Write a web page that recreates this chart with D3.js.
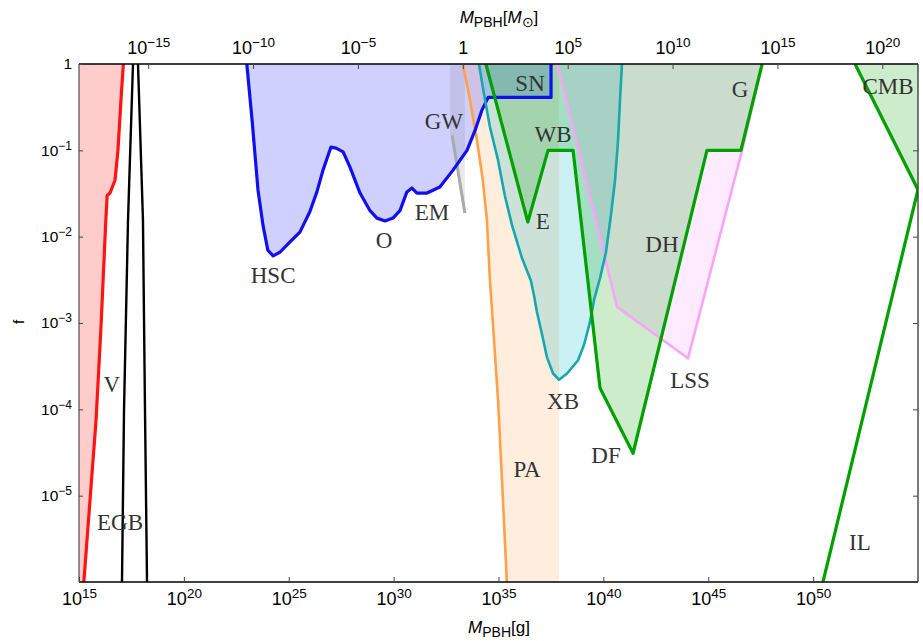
<!DOCTYPE html>
<html>
<head>
<meta charset="utf-8">
<script src="https://cdn.jsdelivr.net/npm/d3@7"></script>
<style>
  body { margin: 0; background: #fff; }
  svg { display: block; }
</style>
</head>
<body>
<div id="pbh-constraints"></div>
<script>
// each curve: [M_PBH in g, f]
const vLine = [[1.3e17, 1], [1.0e17, 0.38], [7.2e16, 0.10], [5.2e16, 0.045], [3.0e16, 0.032],
  [2.2e16, 0.030], [1.9e16, 0.0156], [1.1e16, 8.3e-4], [6.5e15, 7.5e-5], [1.7e15, 1e-6]];

const egbLine = [[1.12e17, 1e-6], [1.4e17, 9.8e-5], [2.17e17, 0.0156], [3.75e17, 1], [4.9e17, 8],
  [6.5e17, 1], [1.12e18, 0.0156], [1.4e18, 9.8e-5], [1.75e18, 1e-6]];

const hscLine = [[1.0e23, 1], [1.8e23, 0.22], [3.4e23, 0.035], [5.9e23, 0.0136], [1.0e24, 0.0070],
  [1.8e24, 0.0060], [3.8e24, 0.0066], [1.15e25, 0.0087], [3.4e25, 0.0113], [1.0e26, 0.0193],
  [2.2e26, 0.033], [4.3e26, 0.059], [1.03e27, 0.109], [1.8e27, 0.106], [3.9e27, 0.096],
  [8.3e27, 0.064], [2.5e28, 0.032], [7.5e28, 0.020], [1.6e29, 0.0164], [3.9e29, 0.0152],
  [9.3e29, 0.0164], [2.0e30, 0.020], [4.3e30, 0.033], [7.5e30, 0.0366], [1.3e31, 0.032],
  [3.9e31, 0.032], [1.6e32, 0.0376], [6.8e32, 0.059], [3.15e33, 0.10], [7.6e33, 0.17],
  [1.6e34, 0.29], [3.2e34, 0.41], [3.2e37, 0.41], [3.2e37, 1]];

const gwBand = [[4.9e32, 1], [4.9e32, 0.15], [6.1e32, 0.15], [2.5e33, 0.0188], [2.5e33, 1]];

const paLine = [[2.0e33, 1], [4.4e33, 0.38], [9.4e33, 0.13], [1.8e34, 0.045], [2.8e34, 0.0156],
  [3.9e34, 0.00315], [6.1e34, 6.4e-4], [9.5e34, 1.28e-4], [1.47e35, 1.5e-5], [2.5e35, 1e-6]];
const paEdge = 7.7e37;

const xbLine = [[1.17e34, 1], [2.0e34, 0.46], [3.9e34, 0.186], [9.5e34, 0.077], [2.0e35, 0.030],
  [4.4e35, 0.0136], [1.3e36, 0.0057], [3.5e36, 0.0031], [4.9e36, 0.0021], [6.8e36, 0.00134],
  [1.2e37, 7.3e-4], [2.05e37, 4.0e-4], [4.0e37, 2.6e-4], [7.7e37, 2.2e-4], [1.85e38, 2.6e-4],
  [6.2e38, 3.7e-4], [1.2e39, 5.6e-4], [2.3e39, 0.00103], [3.6e39, 0.00185], [6.9e39, 0.0033],
  [1.33e40, 0.0066], [2.3e40, 0.0178], [3.6e40, 0.045], [5.0e40, 0.13], [6.2e40, 0.38], [7.7e40, 1]];

const lssLine = [[6.2e37, 1], [4.5e40, 0.00153], [1.08e44, 3.9e-4], [4.1e46, 0.10], [3.7e47, 1]];

const greenLine = [[2.5e34, 1], [2.5e36, 0.0148], [2.3e37, 0.10], [3.6e38, 0.10], [6.9e39, 1.77e-4],
  [2.6e41, 3.1e-5], [8.7e44, 0.10], [3.6e46, 0.10], [3.7e47, 1]];

const ilLine = [[2.95e50, 1e-6], [1e55, 0.035], [1e52, 1]];

const labels = [
  ['V', 3.7e16, 1.96e-4], ['EGB', 9.0e16, 4.95e-6], ['HSC', 1.8e24, 3.6e-3], ['O', 3.5e29, 9.1e-3],
  ['EM', 6.8e31, 0.0193], ['GW', 2.5e32, 0.22], ['SN', 3.2e36, 0.60], ['WB', 4.0e37, 0.155],
  ['E', 1.3e37, 0.0152], ['XB', 1.2e38, 1.25e-4], ['PA', 2.3e36, 2.0e-5], ['DF', 1.33e40, 2.96e-5],
  ['DH', 6.2e42, 8.2e-3], ['LSS', 1.35e44, 2.2e-4], ['G', 3.3e46, 0.51], ['CMB', 3.7e53, 0.56],
  ['IL', 1.7e52, 2.9e-6],
];

const xTicks = [1e15, 1e20, 1e25, 1e30, 1e35, 1e40, 1e45, 1e50];
const solarTicks = [1e-15, 1e-10, 1e-5, 1, 1e5, 1e10, 1e15, 1e20];
const yTicks = [1e-5, 1e-4, 1e-3, 1e-2, 1e-1, 1];
const SOLAR_MASS = 1.989e33;

const makePlot = () => {
  const container = d3.select('#pbh-constraints');
  container.selectAll('*').remove();

  const size = { width: 923, height: 641 };
  const margin = { top: 64, right: 5, bottom: 59, left: 79 };

  const svg = container
    .append('svg')
    .attr('width', size.width)
    .attr('height', size.height)
    .style('background', '#fff');

  const x = d3
    .scaleLog()
    .domain([1e15, 1e55])
    .range([margin.left, size.width - margin.right]);

  const xSolar = d3
    .scaleLog()
    .domain(x.domain().map((d) => d / SOLAR_MASS))
    .range(x.range());

  const y = d3
    .scaleLog()
    .domain([1e-6, 1])
    .range([size.height - margin.bottom, margin.top]);

  const [x0, x1] = x.domain();
  const [y0, y1] = y.domain();

  svg
    .append('clipPath')
    .attr('id', 'plot-clip')
    .append('rect')
    .attr('x', margin.left)
    .attr('y', margin.top)
    .attr('width', x.range()[1] - margin.left)
    .attr('height', y.range()[0] - margin.top);

  const line = d3
    .line()
    .x((d) => x(d[0]))
    .y((d) => y(d[1]));

  const plot = svg.append('g').attr('clip-path', 'url(#plot-clip)');

  // filled regions first, then the boundary lines on top
  const fill = (pts, color) => {
    plot.append('path').attr('d', line(pts) + 'Z').attr('fill', color).attr('stroke', 'none');
  };

  fill([...paLine, [paEdge, y0], [paEdge, y1]], 'rgba(255,150,60,0.17)');
  fill(hscLine, 'rgba(40,40,255,0.22)');
  fill(gwBand, 'rgba(120,120,120,0.16)');
  fill([...vLine, [x0, y0], [x0, y1]], 'rgba(255,40,40,0.24)');
  fill(xbLine, 'rgba(0,185,200,0.2)');
  fill(lssLine, 'rgba(255,60,255,0.1)');
  fill(greenLine, 'rgba(0,160,0,0.2)');
  fill([...ilLine.slice(1), [x1, y1]], 'rgba(0,160,0,0.2)');

  const stroke = (pts, color, width) => {
    plot
      .append('path')
      .attr('d', line(pts))
      .attr('fill', 'none')
      .attr('stroke', color)
      .attr('stroke-width', width)
      .attr('stroke-linejoin', 'round');
  };

  stroke(vLine, '#ff1414', 3.2);
  stroke(egbLine, '#000', 2.4);
  stroke(paLine, '#ffa04a', 2.6);
  stroke(gwBand.slice(2, 4), '#aaaaaa', 3);
  stroke(hscLine, '#1010ee', 3.2);
  stroke(lssLine, '#f8a4f8', 2.6);
  stroke(xbLine, '#17a7ae', 2.6);
  stroke(greenLine, '#00a000', 3.2);
  stroke(ilLine, '#00a000', 3.2);

  svg
    .append('g')
    .selectAll('text')
    .data(labels)
    .enter()
    .append('text')
    .attr('x', (d) => x(d[1]))
    .attr('y', (d) => y(d[2]))
    .attr('dy', '0.34em')
    .attr('text-anchor', 'middle')
    .attr('font-family', 'Liberation Serif, serif')
    .attr('font-size', 23)
    .attr('fill', '#333')
    .text((d) => d[0]);

  // frame
  const bottom = y.range()[0];
  const right = x.range()[1];
  [
    [margin.left, margin.top, right, margin.top, '#000'],
    [margin.left, bottom, right, bottom, '#000'],
    [margin.left, margin.top, margin.left, bottom, '#5a5a5a'],
    [right, margin.top, right, bottom, '#333'],
  ].forEach(([ax, ay, bx, by, c]) => {
    svg
      .append('line')
      .attr('x1', ax)
      .attr('y1', ay)
      .attr('x2', bx)
      .attr('y2', by)
      .attr('stroke', c)
      .attr('stroke-width', 1.3);
  });

  const powerText = function (d, baseSize, supSize, raise) {
    const e = Math.round(Math.log10(d));
    const t = d3.select(this).text(null);
    if (e === 0) {
      t.append('tspan').text('1');
      return;
    }
    t.append('tspan').text('10');
    t.append('tspan')
      .attr('font-size', supSize)
      .attr('dy', -raise)
      .text(e < 0 ? `\u2212${-e}` : `${e}`);
  };

  const styleAxis = (g, fontSize) => {
    g.select('.domain').remove();
    g.selectAll('line').attr('stroke', '#444').attr('stroke-width', 1);
    g.selectAll('text')
      .attr('font-family', 'Liberation Sans, Arial, sans-serif')
      .attr('font-size', fontSize)
      .attr('fill', '#000');
  };

  svg
    .append('g')
    .attr('transform', `translate(0, ${bottom})`)
    .call(d3.axisBottom(x).tickValues(xTicks).tickSizeInner(-5).tickSizeOuter(0).tickPadding(10))
    .call((g) => styleAxis(g, 18))
    .selectAll('text')
    .each(function (d) {
      powerText.call(this, d, 18, 13.5, 7);
    });

  svg
    .append('g')
    .attr('transform', `translate(0, ${margin.top})`)
    .call(d3.axisTop(xSolar).tickValues(solarTicks).tickSizeInner(-5).tickSizeOuter(0).tickPadding(10))
    .call((g) => styleAxis(g, 18))
    .selectAll('text')
    .each(function (d) {
      powerText.call(this, d, 18, 13.5, 7);
    });

  svg
    .append('g')
    .attr('transform', `translate(${margin.left}, 0)`)
    .call(d3.axisLeft(y).tickValues(yTicks).tickSizeInner(-4).tickSizeOuter(0).tickPadding(7))
    .call((g) => styleAxis(g, 15.5))
    .selectAll('text')
    .each(function (d) {
      powerText.call(this, d, 15.5, 12, 6);
    });

  svg
    .append('g')
    .attr('transform', `translate(${right}, 0)`)
    .call(d3.axisRight(y).tickValues(yTicks).tickSizeInner(-5).tickSizeOuter(0).tickFormat(''))
    .call((g) => styleAxis(g, 12));

  // axis titles
  const massTitle = (tx, ty, unit) => {
    const t = svg
      .append('text')
      .attr('x', tx)
      .attr('y', ty)
      .attr('text-anchor', 'middle')
      .attr('font-family', 'Liberation Sans, Arial, sans-serif')
      .attr('font-size', 17)
      .attr('fill', '#000');
    t.append('tspan').attr('font-style', 'italic').text('M');
    t.append('tspan').attr('font-size', 14).attr('dy', 4).text('PBH');
    t.append('tspan').attr('dy', -4).text('[');
    if (unit === 'sun') {
      t.append('tspan').attr('font-style', 'italic').text('M');
      t.append('tspan').attr('font-size', 14).attr('dy', 4).text('\u2299');
      t.append('tspan').attr('dy', -4).text(']');
    } else {
      t.append('tspan').text('g]');
    }
  };

  massTitle(499, 633, 'g');
  massTitle(499, 23, 'sun');

  svg
    .append('text')
    .attr('transform', 'translate(24, 322) rotate(-90)')
    .attr('text-anchor', 'middle')
    .attr('font-family', 'Liberation Sans, Arial, sans-serif')
    .attr('font-size', 15)
    .text('f');
};

makePlot();
</script>
</body>
</html>
